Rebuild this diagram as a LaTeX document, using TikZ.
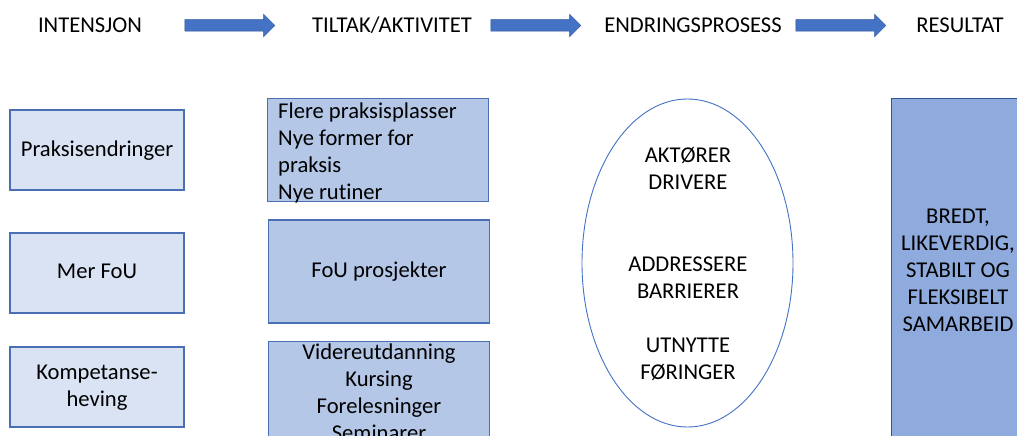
\documentclass[tikz,border=0pt]{standalone}
\usepackage{fontspec}
\setmainfont{Carlito}[Ligatures=NoCommon]
\usetikzlibrary{positioning,shapes.geometric,shapes.arrows}

\definecolor{lysblaa}{HTML}{DAE3F3}
\definecolor{midblaa}{HTML}{B4C7E7}
\definecolor{resblaa}{HTML}{8FAADC}
\definecolor{kantblaa}{HTML}{4A6FB5}
\definecolor{pilblaa}{HTML}{4472C4}
\definecolor{pilkant}{HTML}{2F5597}

\begin{document}
\begin{tikzpicture}
  [x=1pt, y=-1pt, font=\fontsize{22.6}{27}\selectfont]

% picture frame
\clip (0,0) rectangle (1017,436);
\fill[white] (0,0) rectangle (1017,436);

% define styles
\tikzstyle{tekst} = [inner sep=0pt, align=center];
\tikzstyle{intbox} = [draw=kantblaa, fill=lysblaa, line width=1.2pt, minimum width=174pt, minimum height=80pt, inner sep=0pt, align=center];
\tikzstyle{tiltak} = [draw=kantblaa, fill=midblaa, line width=1.2pt, minimum width=221pt, minimum height=103pt, inner sep=0pt, align=center];
\tikzstyle{prosess} = [draw=pilblaa, fill=white, line width=0.9pt, ellipse, minimum width=211pt, minimum height=328pt, inner sep=0pt];
\tikzstyle{resultat} = [draw=pilkant, fill=resblaa, line width=1.2pt, minimum width=150pt, minimum height=360pt, inner sep=0pt];
\tikzstyle{pil} = [single arrow, fill=pilblaa, draw=pilkant, line width=0.5pt, minimum height=90pt, inner xsep=0pt, inner ysep=5.5pt, single arrow head extend=5.5pt];

% headings
\node[tekst] (intensjon) at (90,25) {INTENSJON};
\node[tekst] (tiltak) at (392,25) {TILTAK/AKTIVITET};
\node[tekst] (endring) at (693,25) {ENDRINGSPROSESS};
\node[tekst] (res) at (960,25) {RESULTAT};

% arrows between headings
\foreach \x/\n in {227/1, 533/2, 838/3}
  \node[pil] (pil\n) at (\x,25.5) {};

% intention boxes
\foreach \y/\navn/\txt in {150/prak/Praksisendringer, 273/fou/Mer FoU, 387/komp/{Kompetanse-\\heving}}
  \node[intbox, text depth=3pt] (\navn) at (97,\y) {\txt};

% activity boxes
\node[tiltak] (tiltakA) at (378,150) {};
\node[tekst, anchor=north west, align=left] (tiltakAtekst) at (278,102.5)
  {Flere praksisplasser\\Nye former for\\praksis\\Nye rutiner};
\node[tiltak] (tiltakB) at (379,271.5) {FoU prosjekter};
\node[tiltak, anchor=north, minimum height=130pt] (tiltakC) at (379,341) {};
\node[tekst, anchor=north] (tiltakCtekst) at (379,343.5)
  {Videreutdanning\\Kursing\\Forelesninger\\Seminarer};

% change process
\node[prosess] (ellipse) at (687.5,263) {};
\node[tekst] (aktorer) at (688,168.5) {AKTØRER\\DRIVERE};
\node[tekst] (barrierer) at (688,277.5) {ADDRESSERE\\BARRIERER};
\node[tekst] (foringer) at (688,359.5) {UTNYTTE\\FØRINGER};

% result
\node[resultat, anchor=north west] (resboks) at (891,98) {};
\node[tekst] (restekst) at (958,270.5)
  {BREDT,\\LIKEVERDIG,\\STABILT OG\\FLEKSIBELT\\SAMARBEID};

\end{tikzpicture}
\end{document}
